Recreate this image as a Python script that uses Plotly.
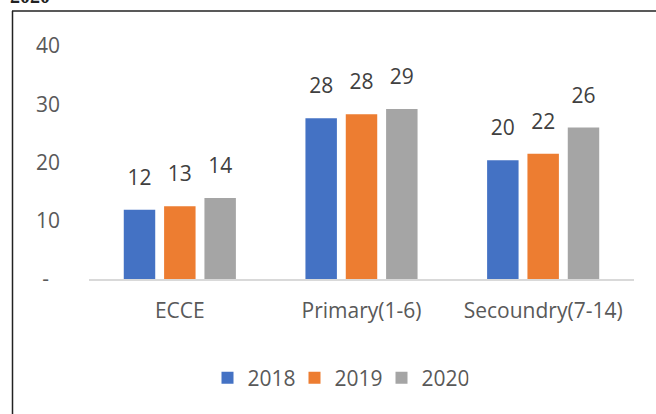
import plotly.graph_objects as go

categories = ["ECCE", "Primary(1-6)", "Secoundry(7-14)"]
years = ["2018", "2019", "2020"]
v2018 = [11.9, 27.6, 20.4]
v2019 = [12.5, 28.3, 21.5]
v2020 = [13.9, 29.2, 26.0]
lbl2018 = ["12", "28", "20"]
lbl2019 = ["13", "28", "22"]
lbl2020 = ["14", "29", "26"]
yticks = [0, 10, 20, 30, 40]
yticktext = ["-\u00a0\u00a0", "10", "20", "30", "40"]

colors = ["#4472C4", "#ED7D31", "#A5A5A5"]
font = "Open Sans"

W, H = 656, 414
ML, MR, MT, MB = 89, 22, 46, 135
PW, PH = W - ML - MR, H - MT - MB


def px_x(p):
    return (p - ML) / PW


def px_y(p):
    return 1 + (MT - p) / PH


fig = go.Figure()
for name, vals, col in zip(years, [v2018, v2019, v2020], colors):
    fig.add_trace(go.Bar(x=categories, y=vals, name=name, marker_color=col,
                         marker_line_width=0, hoverinfo="skip", offsetgroup=name))

# data labels, grouped the same way as the bars
for name, vals, lbls in zip(years, [v2018, v2019, v2020], [lbl2018, lbl2019, lbl2020]):
    fig.add_trace(go.Scatter(x=categories, y=vals, text=lbls, mode="markers+text",
                             marker=dict(size=30, opacity=0), textposition="top center",
                             textfont=dict(family=font, size=21, color="#404040"),
                             showlegend=False, hoverinfo="skip", cliponaxis=False,
                             offsetgroup=name))

fig.update_layout(
    width=W, height=H,
    margin=dict(l=ML, r=MR, t=MT, b=MB),
    paper_bgcolor="white", plot_bgcolor="white",
    barmode="group", bargap=0.334, bargroupgap=0.22,
    scattermode="group", scattergap=0.334,
    font=dict(family=font, size=21, color="#595959"),
    showlegend=True,
    legend=dict(orientation="h", x=px_x(338), xanchor="center", y=px_y(378),
                yanchor="middle", font=dict(size=21, color="#595959"),
                itemwidth=30, traceorder="normal", entrywidth=42),
    xaxis=dict(showline=True, linecolor="#d9d9d9", linewidth=1.5, showgrid=False,
               ticks="", ticklabelstandoff=12, fixedrange=True, automargin=False),
    yaxis=dict(range=[0, 40], tickvals=yticks, ticktext=yticktext, showgrid=False,
               zeroline=False, showline=False, ticklabelstandoff=28, fixedrange=True,
               automargin=False),
)

# outer chart border (partly outside the picture)
fig.add_shape(type="line", xref="paper", yref="paper", x0=px_x(12.5), x1=px_x(12.5),
              y0=px_y(11), y1=px_y(430), line=dict(color="#222222", width=1.5))
fig.add_shape(type="line", xref="paper", yref="paper", x0=px_x(12), x1=px_x(670),
              y0=px_y(11), y1=px_y(11), line=dict(color="#222222", width=1.5))

# title mostly cut off at the top edge
fig.add_annotation(text="<b>2020</b>", xref="paper", yref="paper", x=px_x(8), y=px_y(9),
                   xanchor="left", yanchor="bottom", showarrow=False,
                   font=dict(family="Liberation Serif", size=20, color="#222222"))

# drop the default page margin so the figure sits in the window corner
fig.write_html("out.html", config={"displayModeBar": False},
               post_script="document.body.style.margin='0px';")
